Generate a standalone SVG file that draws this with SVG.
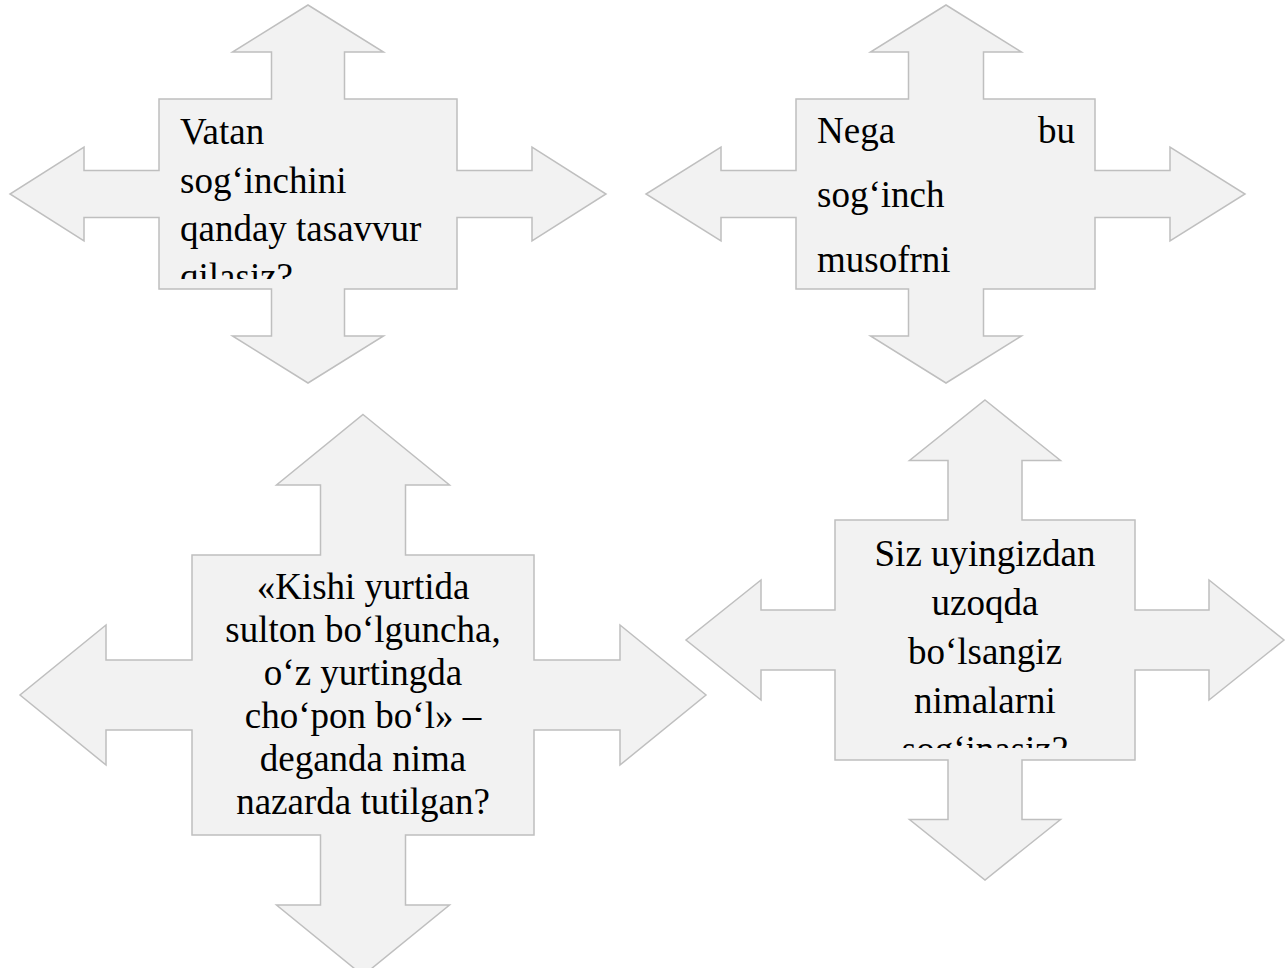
<svg xmlns="http://www.w3.org/2000/svg" width="1288" height="968" viewBox="0 0 1288 968">
<style>
.shape{fill:#f2f2f2;stroke:#bfbfbf;stroke-width:1.5;stroke-linejoin:miter}
.t{font-family:"Liberation Serif","Times New Roman",serif;font-size:37px;fill:#000}
.c{text-anchor:middle}
</style>
<defs>
<clipPath id="clip1"><rect x="159" y="99" width="298" height="180"/></clipPath>
<clipPath id="clip4"><rect x="835" y="520" width="300" height="228"/></clipPath>
</defs>
<rect width="1288" height="968" fill="#ffffff"/>
<g id="connectors"></g>
<g id="node1">
<polygon class="shape" points="308,5 383.5,52 344.5,52 344.5,99 457,99 457,170.5 532,170.5 532,147 606,194 532,241 532,217.5 457,217.5 457,289 344.5,289 344.5,336 383.5,336 308,383 232.5,336 271.5,336 271.5,289 159,289 159,217.5 84,217.5 84,241 10,194 84,147 84,170.5 159,170.5 159,99 271.5,99 271.5,52 232.5,52"/>
<g clip-path="url(#clip1)">
<text class="t" x="180" y="144">Vatan</text>
<text class="t" x="180" y="193">sog‘inchini</text>
<text class="t" x="180" y="241">qanday tasavvur</text>
<text class="t" x="180" y="289">qilasiz?</text>
</g>
</g>
<g id="node2">
<polygon class="shape" points="946,5 1021.5,52 983.5,52 983.5,99 1095,99 1095,170.5 1170,170.5 1170,147 1245,194 1170,241 1170,217.5 1095,217.5 1095,289 983.5,289 983.5,336 1021.5,336 946,383 870.5,336 908.5,336 908.5,289 796,289 796,217.5 721,217.5 721,241 646,194 721,147 721,170.5 796,170.5 796,99 908.5,99 908.5,52 870.5,52"/>
<text class="t" x="817" y="143">Nega</text>
<text class="t" x="1075" y="143" text-anchor="end">bu</text>
<text class="t" x="817" y="207">sog‘inch</text>
<text class="t" x="817" y="272">musofrni</text>
</g>
<g id="node3">
<polygon class="shape" points="363,414.5 449.5,485 405.5,485 405.5,555 534,555 534,660 620,660 620,625 706,695 620,765 620,730 534,730 534,835 405.5,835 405.5,905 449.5,905 363,975.5 276.5,905 320.5,905 320.5,835 192,835 192,730 106,730 106,765 20,695 106,625 106,660 192,660 192,555 320.5,555 320.5,485 276.5,485"/>
<text class="t c" x="363" y="599">«Kishi yurtida</text>
<text class="t c" x="363" y="642">sulton bo‘lguncha,</text>
<text class="t c" x="363" y="685">o‘z yurtingda</text>
<text class="t c" x="363" y="728">cho‘pon bo‘l» –</text>
<text class="t c" x="363" y="771">deganda nima</text>
<text class="t c" x="363" y="814">nazarda tutilgan?</text>
</g>
<g id="node4">
<polygon class="shape" points="985,400 1060.5,460.5 1022,460.5 1022,520 1135,520 1135,610 1209,610 1209,580 1284,640 1209,700 1209,670 1135,670 1135,760 1022,760 1022,819.5 1060.5,819.5 985,880 909.5,819.5 948,819.5 948,760 835,760 835,670 761,670 761,700 686,640 761,580 761,610 835,610 835,520 948,520 948,460.5 909.5,460.5"/>
<g clip-path="url(#clip4)">
<text class="t c" x="985" y="566">Siz uyingizdan</text>
<text class="t c" x="985" y="615">uzoqda</text>
<text class="t c" x="985" y="664">bo‘lsangiz</text>
<text class="t c" x="985" y="713">nimalarni</text>
<text class="t c" x="985" y="762">sog‘inasiz?</text>
</g>
</g>
</svg>
